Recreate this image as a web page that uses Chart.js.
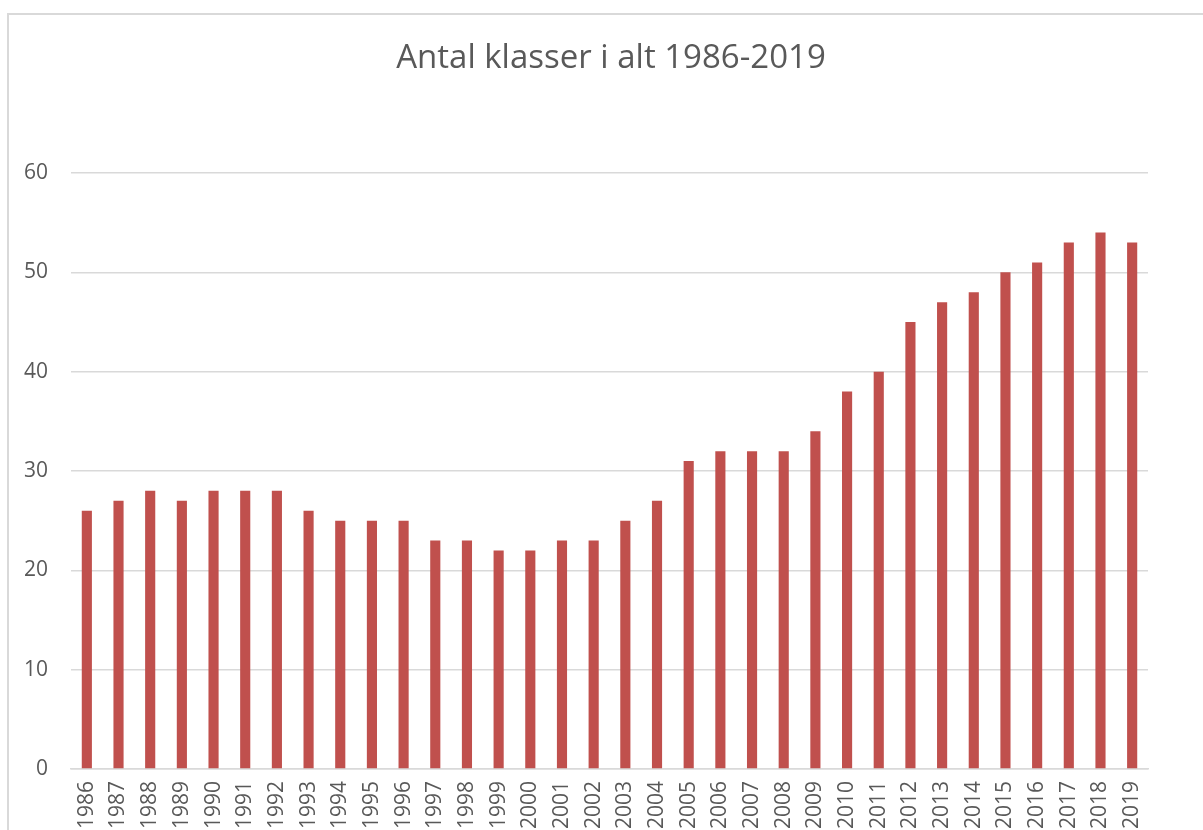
<!DOCTYPE html>
<html>
<head>
<meta charset="utf-8">
<script src="https://cdn.jsdelivr.net/npm/chart.js@4.4.1/dist/chart.umd.min.js"></script>
<style>
  html, body { margin: 0; padding: 0; background: #fff; overflow: hidden; }
  .frame { position: absolute; left: 7px; top: 13px; width: 1300px; height: 1000px; border: 2px solid #d9d9d9; box-sizing: border-box; }
  .wrap { position: absolute; left: 0; top: 0; width: 1203px; height: 870px; }
  .title { position: absolute; left: 311px; top: 39px; width: 600px; text-align: center;
    font-family: 'Open Sans'; font-size: 33px; line-height: 33px; color: #595959; white-space: nowrap; }
</style>
</head>
<body>
<div class="frame"></div>
<div class="wrap"><canvas id="chart"></canvas></div>
<div class="title">Antal klasser i alt 1986-2019</div>
<script>
// Antal klasser pr. år
const years = ['1986', '1987', '1988', '1989', '1990', '1991', '1992', '1993', '1994', '1995',
  '1996', '1997', '1998', '1999', '2000', '2001', '2002', '2003', '2004', '2005',
  '2006', '2007', '2008', '2009', '2010', '2011', '2012', '2013', '2014', '2015',
  '2016', '2017', '2018', '2019'];
const klasser = [26, 27, 28, 27, 28, 28, 28, 26, 25, 25,
  25, 23, 23, 22, 22, 23, 23, 25, 27, 31,
  32, 32, 32, 34, 38, 40, 45, 47, 48, 50,
  51, 53, 54, 53];
const yTicks = [0, 10, 20, 30, 40, 50, 60];

const textColor = '#595959';
const gridColor = '#d9d9d9';
const font = 'Open Sans';

new Chart(document.getElementById('chart'), {
  type: 'bar',
  data: {
    labels: years,
    datasets: [{
      label: 'Antal klasser',
      data: klasser,
      backgroundColor: '#C0504D',
      barPercentage: 0.32,
      categoryPercentage: 1,
    }],
  },
  options: {
    responsive: true,
    maintainAspectRatio: false,
    animation: false,
    layout: { padding: { left: 0, right: 55, top: 173, bottom: 0 } },
    plugins: {
      legend: { display: false },
      tooltip: { enabled: false },
      title: { display: false },
    },
    scales: {
      x: {
        grid: { display: false, drawTicks: false },
        border: { display: true, color: gridColor, width: 1.5 },
        ticks: {
          color: textColor,
          font: { family: font, size: 21 },
          minRotation: 90,
          maxRotation: 90,
          autoSkip: false,
          padding: 12,
        },
        afterFit: (scale) => { scale.height = 101; },
      },
      y: {
        min: 0,
        max: 60,
        afterBuildTicks: (scale) => { scale.ticks = yTicks.map(v => ({ value: v })); },
        grid: { color: gridColor, lineWidth: 1.5, drawTicks: false },
        border: { display: false },
        ticks: {
          color: textColor,
          font: { family: font, size: 21 },
          padding: 23,
        },
        afterFit: (scale) => { scale.width = 71; },
      },
    },
  },
});
</script>
</body>
</html>
